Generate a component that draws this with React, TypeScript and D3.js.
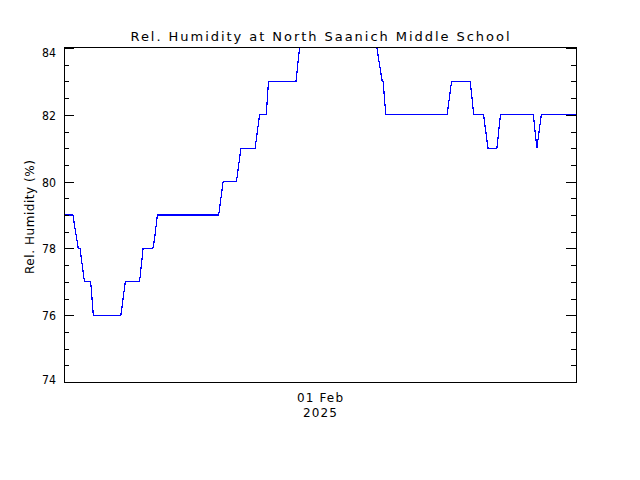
import { useEffect, useRef } from 'react'
import * as d3 from 'd3'

// readings (UTC)
const times = [
  '2025-01-31T00:00', '2025-01-31T00:50', '2025-01-31T01:20', '2025-01-31T01:30',
  '2025-01-31T01:55', '2025-01-31T02:30', '2025-01-31T02:45', '2025-01-31T05:20',
  '2025-01-31T05:45', '2025-01-31T07:05', '2025-01-31T07:25', '2025-01-31T08:20',
  '2025-01-31T08:30', '2025-01-31T08:45', '2025-01-31T14:30', '2025-01-31T14:55',
  '2025-01-31T16:10', '2025-01-31T16:35', '2025-01-31T17:55', '2025-01-31T18:20',
  '2025-01-31T18:58', '2025-01-31T19:10', '2025-01-31T21:45', '2025-01-31T22:05',
  '2025-01-31T22:30', '2025-02-01T04:55', '2025-02-01T05:20', '2025-02-01T05:50',
  '2025-02-01T05:55', '2025-02-01T06:10', '2025-02-01T11:55', '2025-02-01T12:20',
  '2025-02-01T14:05', '2025-02-01T14:25', '2025-02-01T15:20', '2025-02-01T15:45',
  '2025-02-01T16:35', '2025-02-01T16:55', '2025-02-01T20:00', '2025-02-01T20:20',
  '2025-02-01T20:45', '2025-02-02T00:00',
]
const humidity = [
  79, 79, 78, 78,
  77, 77, 76, 76,
  77, 77, 78, 78,
  78.3, 79, 79, 80,
  80, 81, 81, 82,
  82, 83, 83, 84,
  85, 85, 84, 83,
  83, 82, 82, 83,
  83, 82, 82, 81,
  81, 82, 82, 81,
  82, 82,
]
const yTicks = [74, 76, 78, 80, 82, 84]
const xStart = '2025-01-31T00:00'
const xEnd = '2025-02-02T00:00'
const xTick = '2025-02-01T00:00'

const W = 640
const H = 480
const font = '"DejaVu Sans", sans-serif'

export default function App() {
  const svgRef = useRef<SVGSVGElement>(null)

  useEffect(() => {
    if (!svgRef.current) return
    const svg = d3.select(svgRef.current)
    svg.selectAll('*').remove()

    const parse = d3.utcParse('%Y-%m-%dT%H:%M')
    const data = times.map((t, i) => ({ date: parse(t)!, value: humidity[i] }))

    const left = 64, right = 576, top = 48, bottom = 382

    const x = d3.scaleUtc()
      .domain([parse(xStart)!, parse(xEnd)!])
      .range([left, right])
    const y = d3.scaleLinear().domain([74, 84]).range([bottom, top])

    svg.append('rect').attr('width', W).attr('height', H).attr('fill', '#fff')

    svg.append('clipPath').attr('id', 'plot-clip')
      .append('rect')
      .attr('x', left).attr('y', top)
      .attr('width', right - left).attr('height', bottom - top)

    const line = d3.line<{ date: Date; value: number }>()
      .x(d => x(d.date))
      .y(d => y(d.value))

    svg.append('path')
      .datum(data)
      .attr('clip-path', 'url(#plot-clip)')
      .attr('fill', 'none')
      .attr('stroke', '#0000ff')
      .attr('stroke-width', 1.2)
      .attr('shape-rendering', 'crispEdges')
      .attr('d', line)

    // minor + major ticks on both vertical sides
    const minor = d3.range(74, 84.01, 0.5)
    const tg = svg.append('g')
      .attr('stroke', '#000')
      .attr('shape-rendering', 'crispEdges')
    minor.forEach(v => {
      const len = v % 2 === 0 ? 10 : 5
      const yy = Math.round(y(v)) + 0.5
      tg.append('line').attr('x1', left).attr('x2', left + len).attr('y1', yy).attr('y2', yy)
      tg.append('line').attr('x1', right - len).attr('x2', right).attr('y1', yy).attr('y2', yy)
    })

    svg.append('rect')
      .attr('x', left + 0.5).attr('y', top - 0.5)
      .attr('width', right - left).attr('height', bottom - top + 1)
      .attr('fill', 'none')
      .attr('stroke', '#000')
      .attr('shape-rendering', 'crispEdges')

    svg.selectAll('.ylab')
      .data(yTicks)
      .enter()
      .append('text')
      .attr('class', 'ylab')
      .attr('x', 56)
      .attr('y', d => Math.min(Math.max(y(d) + 5, 57), 384))
      .attr('text-anchor', 'end')
      .attr('font-family', font)
      .attr('font-size', 12)
      .attr('textLength', 14).attr('lengthAdjust', 'spacingAndGlyphs')
      .text(d => d)

    const tx = x(parse(xTick)!)
    const fmtDay = d3.utcFormat('%d %b')
    const fmtYear = d3.utcFormat('%Y')
    svg.append('text')
      .attr('x', tx).attr('y', 402)
      .attr('text-anchor', 'middle')
      .attr('font-family', font).attr('font-size', 12)
      .attr('textLength', 46).attr('lengthAdjust', 'spacing')
      .text(fmtDay(parse(xTick)!))
    svg.append('text')
      .attr('x', tx).attr('y', 417)
      .attr('text-anchor', 'middle')
      .attr('font-family', font).attr('font-size', 12)
      .attr('textLength', 34).attr('lengthAdjust', 'spacing')
      .text(fmtYear(parse(xTick)!))

    svg.append('text')
      .attr('x', 320).attr('y', 41)
      .attr('text-anchor', 'middle')
      .attr('font-family', font).attr('font-size', 13)
      .attr('textLength', 379).attr('lengthAdjust', 'spacing')
      .text('Rel. Humidity at North Saanich Middle School')

    svg.append('text')
      .attr('transform', 'translate(34,217) rotate(-90)')
      .attr('text-anchor', 'middle')
      .attr('font-family', font).attr('font-size', 12)
      .attr('textLength', 114).attr('lengthAdjust', 'spacing')
      .text('Rel. Humidity (%)')
  }, [])

  return (
    <svg
      ref={svgRef}
      width={W}
      height={H}
      style={{ position: 'absolute', left: 0, top: 0, display: 'block' }}
    />
  )
}
